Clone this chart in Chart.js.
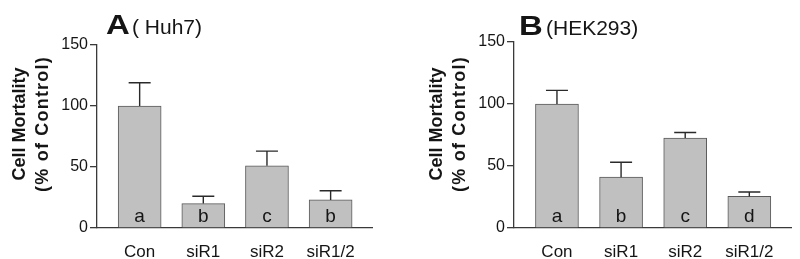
<!DOCTYPE html>
<html>
<head>
<meta charset="utf-8">
<script src="https://cdn.jsdelivr.net/npm/chart.js@4"></script>
<style>
  html, body { margin: 0; padding: 0; background: #fff; }
  #wrap { position: relative; width: 800px; height: 259px; overflow: hidden; }
  .pane { position: absolute; top: 0; width: 400px; height: 259px; }
</style>
</head>
<body>
<div id="wrap">
  <div class="pane" style="left:0"><canvas id="cA" width="400" height="259"></canvas></div>
  <div class="pane" style="left:400px"><canvas id="cB" width="400" height="259"></canvas></div>
</div>
<script>
// ---- data ----
const categories = ["Con", "siR1", "siR2", "siR1/2"];
const huh7Values = [100, 20, 51, 23];
const huh7Errors = [19, 6, 12, 7.5];
const huh7Letters = ["a", "b", "c", "b"];
const hekValues = [100, 41, 72.5, 25.5];
const hekErrors = [11, 12, 4.5, 3.5];
const hekLetters = ["a", "b", "c", "d"];
const yTicks = [0, 50, 100, 150];
const yTitleLines = ["Cell Mortality", "(% of Control)"];

const INK = '#151515';
const AXIS = '#3a3a3a';

function makeChart(canvasId, cfg) {
  const overlay = {
    id: 'overlay',
    afterDatasetsDraw(chart) {
      const ctx = chart.ctx;
      const xs = chart.scales.x, ys = chart.scales.y;
      ctx.save();
      // error bars (upper only)
      ctx.strokeStyle = '#2a2a2a';
      ctx.lineWidth = 1.4;
      cfg.values.forEach((v, i) => {
        const x = xs.getPixelForValue(i);
        const y0 = ys.getPixelForValue(v);
        const y1 = ys.getPixelForValue(v + cfg.errors[i]);
        ctx.beginPath();
        ctx.moveTo(x, y0);
        ctx.lineTo(x, y1);
        ctx.moveTo(x - 11, y1);
        ctx.lineTo(x + 11, y1);
        ctx.stroke();
      });
      // letters in bars
      ctx.fillStyle = INK;
      ctx.font = '19px Arial, "Liberation Sans", sans-serif';
      ctx.textAlign = 'center';
      ctx.textBaseline = 'alphabetic';
      cfg.letters.forEach((t, i) => {
        ctx.fillText(t, xs.getPixelForValue(i), ys.getPixelForValue(0) - 6);
      });
      ctx.restore();
    },
    afterDraw(chart) {
      const ctx = chart.ctx;
      const area = chart.chartArea;
      ctx.save();
      ctx.fillStyle = INK;
      // panel title
      ctx.textBaseline = 'alphabetic';
      ctx.textAlign = 'left';
      ctx.save();
      ctx.translate(cfg.letterX, cfg.titleY);
      ctx.scale(1.22, 1);
      ctx.font = 'bold 27px Arial, "Liberation Sans", sans-serif';
      ctx.fillText(cfg.letter, 0, 0);
      ctx.restore();
      ctx.font = '21px Arial, "Liberation Sans", sans-serif';
      ctx.fillText(cfg.sub, cfg.subX, cfg.titleY);
      // y title (rotated, two lines)
      ctx.font = 'bold 18px Arial, "Liberation Sans", sans-serif';
      ctx.textAlign = 'center';
      const cy = 124;
      [[yTitleLines[0], area.left - 72, '0px'], [yTitleLines[1], area.left - 49, '1.2px']].forEach(([txt, x, ls]) => {
        ctx.save();
        ctx.letterSpacing = ls;
        ctx.translate(x, cy);
        ctx.rotate(-Math.PI / 2);
        ctx.fillText(txt, 0, 0);
        ctx.restore();
      });
      ctx.restore();
    }
  };

  return new Chart(document.getElementById(canvasId), {
    type: 'bar',
    data: {
      datasets: [{
        data: cfg.values.map((v, i) => ({ x: i, y: v })),
        backgroundColor: '#c0c0c0',
        borderColor: '#5a5a5a',
        borderWidth: 1,
        barThickness: 43
      }]
    },
    options: {
      responsive: false,
      animation: false,
      events: [],
      layout: { padding: { left: 0, right: cfg.padRight, top: cfg.padTop, bottom: 0 } },
      plugins: { legend: { display: false }, tooltip: { enabled: false }, title: { display: false } },
      scales: {
        x: {
          type: 'linear',
          offset: false,
          min: -0.67,
          max: 3.65,
          afterBuildTicks(scale) { scale.ticks = categories.map((c, i) => ({ value: i })); },
          afterFit(scale) { scale.height = 31; scale.paddingLeft = 0; scale.paddingRight = 0; },
          grid: { display: false, offset: false },
          border: { display: true, color: AXIS, width: 1.3 },
          ticks: {
            callback: (v) => categories[v],
            color: INK,
            font: { family: 'Arial, "Liberation Sans", sans-serif', size: 17 },
            padding: 6,
            maxRotation: 0,
            autoSkip: false
          }
        },
        y: {
          min: 0,
          max: 150,
          afterBuildTicks(scale) { scale.ticks = yTicks.map(v => ({ value: v })); },
          afterFit(scale) { scale.width = cfg.axisLeft; },
          grid: { drawOnChartArea: false, drawTicks: true, tickLength: 7, color: AXIS, lineWidth: 1.3 },
          border: { display: true, color: AXIS, width: 1.3 },
          ticks: {
            color: INK,
            font: { family: 'Arial, "Liberation Sans", sans-serif', size: 16 },
            padding: 2
          }
        }
      }
    },
    plugins: [overlay]
  });
}

makeChart('cA', {
  values: huh7Values, errors: huh7Errors, letters: huh7Letters,
  letter: 'A', sub: '( Huh7)', letterX: 106, subX: 132, titleY: 34,
  axisLeft: 97, padRight: 28, padTop: 45
});
makeChart('cB', {
  values: hekValues, errors: hekErrors, letters: hekLetters,
  letter: 'B', sub: '(HEK293)', letterX: 119, subX: 146, titleY: 35,
  axisLeft: 114, padRight: 9, padTop: 42
});
</script>
</body>
</html>
